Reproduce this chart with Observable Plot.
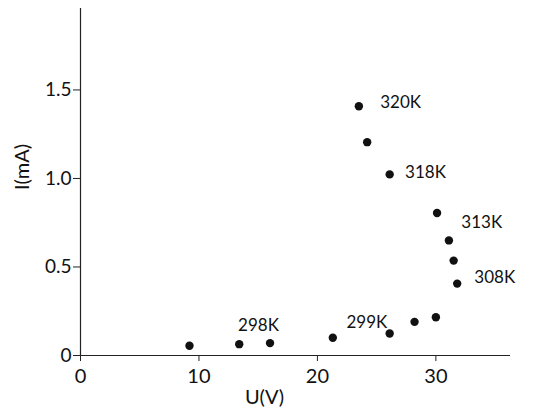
<!DOCTYPE html>
<html>
<head>
<meta charset="utf-8">
<script src="https://cdn.jsdelivr.net/npm/d3@7"></script>
<script src="https://cdn.jsdelivr.net/npm/@observablehq/plot@0.6"></script>
<style>
  html, body { margin: 0; padding: 0; background: #fff; }
  #chart svg { display: block; }
</style>
</head>
<body>
<div id="chart"></div>
<script>
// Measured points: U (V) and I (mA)
const voltage = [9.2, 13.4, 16.0, 21.3, 26.1, 28.2, 30.0, 31.8, 31.5, 31.1, 30.1, 26.1, 24.2, 23.5];
const current = [0.055, 0.064, 0.07, 0.10, 0.124, 0.19, 0.216, 0.406, 0.536, 0.65, 0.805, 1.023, 1.205, 1.408];

// Temperature annotations
const labelText = ["320K", "318K", "313K", "308K", "298K", "299K"];
const labelU = [25.3, 27.4, 32.15, 33.25, 13.3, 22.45];
const labelI = [1.427, 1.034, 0.752, 0.442, 0.169, 0.188];

const xTicks = [0, 10, 20, 30];
const yTicks = [0, 0.5, 1.0, 1.5];

const points = voltage.map((u, i) => ({u, i: current[i]}));
const labels = labelText.map((t, k) => ({t, u: labelU[k], i: labelI[k]}));

const chart = Plot.plot({
  width: 545,
  height: 417,
  marginLeft: 80,
  marginRight: 35,
  marginTop: 8,
  marginBottom: 62,
  style: {fontFamily: "Lato, sans-serif", fontSize: "17px", color: "#111", background: "#fff"},
  x: {domain: [0, 36.3]},
  y: {domain: [0, 1.96]},
  marks: [
    Plot.ruleY([0], {stroke: "#222", strokeWidth: 1.2}),
    Plot.ruleX([0], {stroke: "#222", strokeWidth: 1.2}),
    Plot.axisX({ticks: xTicks, tickSize: 6, tickPadding: 7, label: null, fontSize: 20, stroke: "#222"}),
    Plot.axisY({ticks: yTicks, tickSize: 7, tickPadding: 2, label: null, fontSize: 19, stroke: "#222",
      tickFormat: d => d === 0 ? "0" : d.toFixed(1)}),
    Plot.text(["U(V)"], {frameAnchor: "bottom", dy: 48, dx: -31, fontSize: 20, letterSpacing: "2px", fill: "#111"}),
    Plot.text(["I(mA)"], {frameAnchor: "left", dx: -58, dy: 8, rotate: -90, fontSize: 20, letterSpacing: "3px", fill: "#111"}),
    Plot.dot(points, {x: "u", y: "i", r: 4.2, fill: "#111", stroke: "none"}),
    Plot.text(labels, {x: "u", y: "i", text: "t", textAnchor: "start", fontSize: 17, letterSpacing: "0.5px", fill: "#111"})
  ]
});
document.getElementById("chart").append(chart);
</script>
</body>
</html>
